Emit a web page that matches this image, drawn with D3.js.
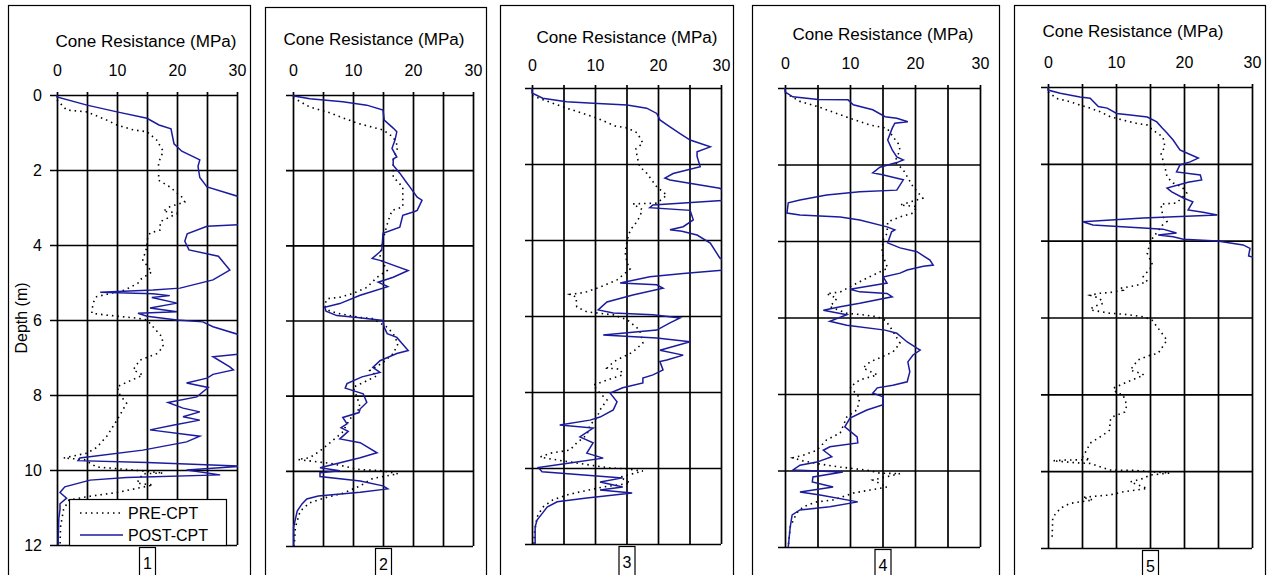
<!DOCTYPE html>
<html>
<head>
<meta charset="utf-8">
<script src="https://cdn.jsdelivr.net/npm/d3@7"></script>
<style>
  body { margin: 0; background: #fff; }
  svg text { font-family: "Liberation Sans", Arial, sans-serif; fill: #000; }
</style>
</head>
<body>
<div id="chart"></div>
<script>
// tick labels and titles
var xTicks = [0, 10, 20, 30];
var gridX = [0, 5, 10, 15, 20, 25, 30];
var depthTicks = [0, 2, 4, 6, 8, 10, 12];
var panelLabels = ["1", "2", "3", "4", "5"];
var xTitle = "Cone Resistance (MPa)";
var yTitle = "Depth (m)";
var seriesNames = ["PRE-CPT", "POST-CPT"];

// [depth (m), cone resistance (MPa)]
var pre1 = [[0.13,0],[0.4,1.6],[0.45,5],[0.67,8.3],[0.8,10],[0.93,12.7],[0.98,15],[1.2,16.6],[1.5,17.7],[1.82,16.9],[2.0,17],[2.27,16.9],[2.45,18.8],[2.72,20.8],[2.85,21.3],[2.98,18.8],[3.1,17.7],[3.15,20.5],[3.2,19.5],[3.38,17.2],[3.6,17.2],[3.68,15.5],[3.87,15],[4.05,15],[4.4,14.3],[4.72,15.8],[4.93,13.8],[5.02,13.5],[5.2,11.3],[5.38,6.6],[5.55,6],[5.82,5.8],[5.87,8.3],[5.95,13.3],[6.0,15],[6.18,16],[6.45,17.5],[6.72,17.7],[6.9,16.6],[7.07,13.8],[7.33,12.7],[7.47,14.3],[7.78,10],[8.0,10.5],[8.22,11.6],[8.67,10],[9.1,8.3],[9.4,6.6],[9.55,5],[9.68,1.1],[9.72,4.5],[9.92,6.6],[10.0,12.7],[10.08,17.7],[10.1,14.3],[10.35,13.3],[10.4,16],[10.6,10],[10.7,5.5],[10.8,2],[11.05,1.1],[11.5,0.6],[12,0.5]];
var post1 = [[0,0],[0.05,0],[0.27,5],[0.45,10],[0.62,15],[0.8,17],[0.9,19],[1.3,19.5],[1.5,20.8],[1.73,23.8],[1.9,23.5],[2.2,23.8],[2.45,25],[2.72,30.5],[3.0,32],[3.45,31],[3.5,25],[3.7,21.7],[3.9,21.3],[4.13,22],[4.3,26.9],[4.67,28.8],[4.93,26],[5.15,20.5],[5.2,16],[5.26,7.2],[5.3,16],[5.35,18.8],[5.4,15.8],[5.55,20],[5.68,15.5],[5.78,20],[5.82,13.5],[5.9,15],[6.0,20],[6.05,24.3],[6.18,26],[6.4,30.5],[6.9,31],[6.98,26],[7.25,28.8],[7.33,29.4],[7.45,26],[7.55,25],[7.68,21.6],[7.8,25.2],[8.05,23.3],[8.2,18.5],[8.35,21],[8.45,23.8],[8.58,21],[8.67,23.8],[8.8,19.5],[8.93,15.5],[9.1,23.8],[9.25,21.6],[9.47,14.3],[9.68,3.8],[9.75,3.5],[9.8,15],[9.9,31],[10.0,21.6],[10.13,27.2],[10.2,11.6],[10.27,5.5],[10.45,1.3],[10.6,0.5],[10.75,1.6],[10.9,0.5],[11.05,0.5],[11.3,0.3],[11.85,0.2],[12,0.2]];

var pre2 = [[0.07,0],[0.32,2.8],[0.45,5.7],[0.75,10.7],[0.93,15],[1.12,16.7],[1.38,17.5],[1.73,16.7],[2.18,16.7],[2.45,18.3],[2.98,18.3],[3.07,16.5],[3.38,15.8],[3.68,15.3],[3.95,14.8],[4.32,14.5],[4.67,15.7],[4.85,14],[5.12,12.3],[5.28,10],[5.38,7.8],[5.42,5.7],[5.6,5.2],[5.75,6.1],[5.82,7.8],[5.92,11.2],[5.95,13.3],[6.18,15.7],[6.35,16.7],[6.62,17.5],[6.88,16.7],[7.12,15],[7.33,12.8],[7.47,14],[7.65,11.7],[7.78,10],[8.05,10.7],[8.32,11.2],[8.62,9.5],[8.98,8.2],[9.25,6.2],[9.47,4.5],[9.65,2.8],[9.7,0.8],[9.8,6.2],[9.97,11.2],[9.99,14.5],[10.08,17.5],[10.2,13.3],[10.4,11.2],[10.6,8.3],[10.7,5.7],[10.85,2.8],[11.07,1.2],[11.5,0.4],[12,0.2]];
var post2 = [[0,0],[0.02,0],[0.1,2.8],[0.18,8.3],[0.27,12.3],[0.4,15],[0.67,15.2],[0.88,16.7],[0.98,17.3],[1.2,17],[1.42,16.5],[1.65,17.3],[1.7,16.7],[1.87,16.7],[2.08,17.8],[2.3,18.8],[2.45,19.5],[2.72,20.7],[2.8,21.5],[3.07,20.7],[3.1,20.3],[3.2,18.3],[3.52,17.8],[3.68,15],[4.13,14.8],[4.35,13.2],[4.4,14.5],[4.67,19.2],[4.85,16.7],[4.98,14.2],[5.1,15.8],[5.33,11.2],[5.55,7.8],[5.65,5.3],[5.75,5.5],[5.87,7.3],[5.92,10.7],[6.0,15],[6.18,15.2],[6.35,15.7],[6.45,17.3],[6.8,19.2],[6.88,17.3],[7.07,14.5],[7.25,13.3],[7.38,14.5],[7.5,11.5],[7.68,9],[7.8,8.7],[7.95,11.7],[8.18,12.3],[8.35,11.2],[8.45,11],[8.58,8.3],[8.75,9],[8.85,8],[8.95,9.2],[9.15,7.8],[9.25,11.2],[9.52,14],[9.65,11.2],[9.92,4.5],[10.0,7.8],[10.05,4.5],[10.15,4.5],[10.27,11.2],[10.4,15],[10.48,15.8],[10.57,11.2],[10.67,4.2],[10.75,2.3],[10.88,1.5],[11.07,0.7],[11.5,0.1],[12,0.1]];

var pre3 = [[0.2,0],[0.4,3.3],[0.53,5.5],[0.79,10.3],[1.0,13.2],[1.05,15.1],[1.18,16.7],[1.45,17.6],[1.6,16.5],[1.82,16.7],[2.07,17.1],[2.24,18.2],[2.6,19.8],[2.82,21.4],[3.03,19.8],[3.05,16],[3.2,17.5],[3.39,17.1],[3.55,16.5],[3.74,15.6],[4.0,15.1],[4.34,14.8],[4.61,15.1],[4.76,15.6],[5.05,13.5],[5.24,10.8],[5.36,8.7],[5.4,7.6],[5.43,6],[5.5,7],[5.76,7.1],[5.89,8.7],[5.97,12.9],[6.1,15.1],[6.37,17.1],[6.71,17.6],[6.95,16],[7.08,14.4],[7.2,13],[7.37,11.9],[7.4,14],[7.55,14.4],[7.66,12.4],[7.82,9.7],[8.03,10.8],[8.21,11.9],[8.47,10.8],[8.68,10.3],[8.87,9.2],[9.13,8.7],[9.34,7.1],[9.53,6],[9.61,2.9],[9.71,1.3],[9.76,2.9],[9.87,7.1],[10.0,12.4],[10.02,14.8],[10.08,17.6],[10.24,14],[10.4,15.6],[10.5,11.3],[10.63,7.6],[10.71,5.5],[10.84,3.3],[11.03,1.7],[11.29,0.8],[11.7,0.4],[12,0.3]];
var post3 = [[0,0],[0.13,0],[0.27,1.7],[0.36,5.5],[0.4,9.7],[0.45,15.1],[0.53,18.2],[0.67,19.8],[0.84,20.3],[1.02,21.9],[1.2,23.5],[1.37,25.1],[1.55,28.3],[1.68,26.2],[1.8,26.2],[2.07,26.7],[2.25,22.4],[2.37,21.1],[2.42,21.9],[2.64,29.8],[2.75,31],[2.95,31],[3.08,19.2],[3.15,18.7],[3.22,25.1],[3.47,25.6],[3.65,24],[3.73,21.9],[3.77,23.8],[3.87,26.2],[4.08,28.3],[4.47,29.8],[4.6,31],[4.79,30.5],[4.88,24],[4.97,18.7],[5.13,14],[5.18,19.8],[5.27,20.8],[5.45,16],[5.63,11.9],[5.84,10.5],[5.92,12.9],[5.97,19.2],[6.05,23.5],[6.18,21.9],[6.37,19.8],[6.5,11.3],[6.58,19.8],[6.68,25.1],[6.9,20.3],[7.03,24],[7.16,21.4],[7.2,20.3],[7.42,20.8],[7.55,19.2],[7.63,17.6],[7.76,17.6],[7.89,14.4],[8.03,12.4],[8.26,13.5],[8.47,12.9],[8.66,10.8],[8.74,9.2],[8.87,4.4],[8.95,9.7],[9.18,7.6],[9.34,9.7],[9.61,8.7],[9.74,11.3],[9.87,6],[9.99,1],[10.1,1.6],[10.26,14.4],[10.37,10.8],[10.5,14.4],[10.58,10.8],[10.66,15.9],[10.79,8.7],[10.89,4],[11.03,2.4],[11.18,1.7],[11.37,0.8],[11.55,0.5],[12,0.5]];

var pre4 = [[0.13,0],[0.35,2.3],[0.48,4.9],[0.79,10],[0.97,13.1],[1.05,15.7],[1.27,16.6],[1.45,17.4],[1.62,17.7],[1.93,16.9],[2.14,18.2],[2.58,19.7],[2.88,21.2],[3.06,17.7],[3.1,20.3],[3.27,19.7],[3.37,17.7],[3.5,15.8],[3.8,15.7],[3.97,15.1],[4.31,14.9],[4.71,15.8],[4.84,14.2],[5.02,12],[5.33,8.5],[5.38,6.4],[5.5,8],[5.72,6.9],[5.89,9.5],[5.93,12],[5.98,14.2],[6.07,15.4],[6.25,16.2],[6.67,17.7],[6.9,16.6],[7.03,14.9],[7.16,13.1],[7.32,12],[7.5,14.2],[7.63,11.5],[7.82,10],[8.1,11.5],[8.41,11.1],[8.6,9.5],[9.02,8.5],[9.2,6.4],[9.47,4.9],[9.6,2.8],[9.67,1.2],[9.75,2.8],[9.86,6.4],[9.91,8.5],[9.99,12.6],[10.07,14.6],[10.08,17.7],[10.25,13.5],[10.43,15.7],[10.51,13.1],[10.59,10.5],[10.77,7.4],[10.82,4.9],[10.95,2.8],[11.11,1.8],[11.48,0.8],[12,0.5]];
var post4 = [[0,0],[0.1,0],[0.23,1.2],[0.3,5.1],[0.31,9.7],[0.44,10.5],[0.57,13.5],[0.75,15.4],[0.79,17.2],[0.88,18.9],[0.92,16.9],[1.05,16.5],[1.36,15.8],[1.62,16.5],[1.8,17.2],[1.88,18.2],[1.95,17.2],[2.07,14.6],[2.22,13.5],[2.27,15],[2.4,18.2],[2.67,17.2],[2.71,11.5],[2.8,6.4],[2.93,2.3],[3.0,0.5],[3.27,0.3],[3.32,2.3],[3.37,8.5],[3.45,11.5],[3.63,15.7],[3.71,16.9],[3.76,16.4],[4.05,15.8],[4.18,17.7],[4.28,20.3],[4.5,22.3],[4.63,22.8],[4.66,21.3],[4.76,18.8],[4.84,17.7],[4.94,15.1],[5.1,15.7],[5.13,14.6],[5.26,10],[5.33,11.5],[5.37,15.7],[5.46,16.5],[5.63,11.5],[5.72,8.5],[5.81,5.9],[5.93,9.5],[6.1,6.9],[6.2,9.5],[6.33,15.4],[6.41,17.2],[6.64,18.8],[6.8,20.3],[6.85,20.8],[6.98,19.7],[7.16,18.9],[7.42,19.2],[7.68,18.8],[7.77,16.6],[7.84,14.2],[7.98,13.5],[8.07,15.1],[8.28,15.1],[8.42,12.6],[8.63,10],[8.86,9.2],[9.12,11.1],[9.28,11.2],[9.38,6.9],[9.47,5.9],[9.64,7.2],[9.78,4.9],[9.86,2.3],[9.99,1.2],[10.04,8.9],[10.17,4.3],[10.3,4.2],[10.43,7.4],[10.56,2.3],[10.64,5.4],[10.82,11.2],[10.95,6.9],[11.03,2.3],[11.16,1.1],[11.48,0.8],[12,0.5]];

var pre5 = [[0.13,0],[0.3,1.3],[0.38,3.2],[0.47,4.7],[0.55,6.2],[0.64,7.6],[0.77,9.1],[0.86,11],[0.95,13.1],[0.99,14.6],[1.12,15.4],[1.3,16.9],[1.56,17.2],[1.72,16.6],[2.08,17.2],[2.34,17.5],[2.5,18.4],[2.6,19.7],[2.76,20.4],[3.02,18.9],[3.05,16.6],[3.38,16.9],[3.5,17.5],[3.6,16.8],[3.93,15.4],[4.07,15],[4.33,14.6],[4.64,15.4],[4.94,14],[5.06,14.6],[5.16,13.1],[5.24,10.6],[5.29,11],[5.34,9.6],[5.37,7.6],[5.42,6.2],[5.5,7.6],[5.63,8.1],[5.73,6.6],[5.8,6.2],[5.89,9.1],[5.92,11.5],[5.98,14],[6.07,15.3],[6.28,16.2],[6.59,17.5],[6.93,16.2],[7.0,14.7],[7.11,13.2],[7.37,12.1],[7.46,13.8],[7.5,14.1],[7.68,11.6],[7.84,9.6],[7.97,10.1],[8.0,11],[8.28,11.6],[8.46,11.3],[8.59,9.4],[8.7,9.1],[8.93,9.1],[9.06,8.1],[9.27,6.2],[9.45,5.7],[9.63,5.1],[9.7,6.2],[9.71,2.6],[9.73,0.7],[9.78,4],[9.8,6.2],[9.97,9.1],[9.98,12.8],[10.05,17.9],[10.1,15],[10.19,14],[10.28,12.1],[10.45,14.6],[10.54,11],[10.62,9.1],[10.68,5.1],[10.75,6.6],[10.84,3.2],[10.97,1.8],[11.2,0.7],[11.75,0.6]];
var post5 = [[0,0],[0.08,0],[0.16,1.8],[0.26,4.7],[0.29,6.2],[0.51,7.4],[0.55,8.7],[0.69,10.1],[0.73,12.1],[0.78,14.6],[0.91,16],[1.07,16.8],[1.2,17.5],[1.38,18.4],[1.64,19.4],[1.68,19.9],[1.85,22.1],[1.95,20.9],[2.03,19.4],[2.21,18.9],[2.29,22.4],[2.42,22.6],[2.48,20.6],[2.63,17.5],[2.73,18.2],[2.89,19.9],[2.99,21.3],[3.2,20.6],[3.26,22.8],[3.33,24.9],[3.41,14],[3.51,5.1],[3.59,6.6],[3.67,14],[3.7,16.9],[3.8,18.9],[3.85,16.2],[3.9,18.4],[3.96,19.9],[4.01,24.9],[4.11,28.7],[4.2,29.7],[4.4,29.5],[4.45,30.5],[4.5,32]];

var preSeries = [pre1, pre2, pre3, pre4, pre5];
var postSeries = [post1, post2, post3, post4, post5];

// where each panel sits on the page
var layout = [
  {left: 8,    right: 250,  top: 5, px: [57, 237],   py: [95, 545], titleX: 146,  titleY: 47, tickY: 76},
  {left: 265,  right: 486,  top: 7, px: [293, 473],  py: [95, 546], titleX: 374,  titleY: 45, tickY: 76},
  {left: 500,  right: 733,  top: 5, px: [532, 721],  py: [88, 544], titleX: 627,  titleY: 43, tickY: 71},
  {left: 752,  right: 999,  top: 5, px: [785, 980],  py: [88, 547], titleX: 883,  titleY: 40, tickY: 69},
  {left: 1014, right: 1265, top: 5, px: [1048, 1252], py: [87, 548], titleX: 1133, titleY: 37, tickY: 68}
];

var blue = "#1b1b9e";

var svg = d3.select("#chart").append("svg")
  .attr("width", 1267)
  .attr("height", 575);

layout.forEach(function(L, i) {
  var g = svg.append("g");

  g.append("rect")
    .attr("x", L.left + 0.5).attr("y", L.top + 0.5)
    .attr("width", L.right - L.left).attr("height", 620)
    .attr("fill", "#fff").attr("stroke", "#000").attr("stroke-width", 1.2);

  var x = d3.scaleLinear().domain([0, 30]).range(L.px);
  var y = d3.scaleLinear().domain([0, 12]).range(L.py);
  var w = L.px[1] - L.px[0];
  var h = L.py[1] - L.py[0];

  // horizontal grid + depth ticks
  var yAxis = g.append("g")
    .attr("transform", "translate(" + (L.px[0] - 7) + ",0)")
    .call(d3.axisLeft(y).tickValues(depthTicks)
      .tickSizeInner(-(w + 7)).tickSizeOuter(0).tickPadding(8)
      .tickFormat(i === 0 ? d3.format("d") : function() { return ""; }));
  yAxis.select(".domain").remove();
  yAxis.selectAll("line").attr("stroke", "#000").attr("stroke-width", 1.7);
  yAxis.selectAll("text").attr("font-size", 16).attr("font-family", null);

  // vertical grid + top ticks
  var xAxis = g.append("g")
    .attr("transform", "translate(0," + (L.py[0] - 3) + ")")
    .call(d3.axisTop(x).tickValues(gridX)
      .tickSizeInner(-(h + 3)).tickSizeOuter(0)
      .tickPadding(L.py[0] - 3 - L.tickY)
      .tickFormat(function(d) { return xTicks.indexOf(d) >= 0 ? d : ""; }));
  xAxis.select(".domain").remove();
  xAxis.selectAll("line").attr("stroke", "#000").attr("stroke-width", 1.7);
  xAxis.selectAll("text").attr("font-size", 16).attr("font-family", null);

  g.append("text")
    .attr("x", L.titleX).attr("y", L.titleY)
    .attr("text-anchor", "middle")
    .attr("font-size", 16)
    .attr("textLength", 181).attr("lengthAdjust", "spacingAndGlyphs")
    .text(xTitle);

  var clipId = "clip" + i;
  svg.append("clipPath").attr("id", clipId)
    .append("rect")
    .attr("x", L.px[0] - 2).attr("y", L.py[0] - 2)
    .attr("width", w + 3).attr("height", h + 4);

  var line = d3.line()
    .x(function(d) { return x(d[1]); })
    .y(function(d) { return y(d[0]); });

  var curves = g.append("g").attr("clip-path", "url(#" + clipId + ")");

  curves.append("path")
    .datum(preSeries[i])
    .attr("d", line)
    .attr("fill", "none")
    .attr("stroke", "#000")
    .attr("stroke-width", 1.6)
    .attr("stroke-dasharray", "1.5,4");

  curves.append("path")
    .datum(postSeries[i])
    .attr("d", line)
    .attr("fill", "none")
    .attr("stroke", blue)
    .attr("stroke-width", 1.5);

  // panel number box
  var cx = x(15);
  g.append("rect")
    .attr("x", cx - 8 + 0.5).attr("y", L.py[1] + 2.5)
    .attr("width", 16).attr("height", 40)
    .attr("fill", "#fff").attr("stroke", "#000").attr("stroke-width", 1.2);
  g.append("text")
    .attr("x", cx + 0.5).attr("y", L.py[1] + 24)
    .attr("text-anchor", "middle")
    .attr("font-size", 16)
    .text(panelLabels[i]);

  if (i === 0) {
    g.append("text")
      .attr("transform", "translate(27,318) rotate(-90)")
      .attr("text-anchor", "middle")
      .attr("font-size", 16)
      .text(yTitle);

    // legend
    var lg = g.append("g");
    lg.append("rect")
      .attr("x", 69.5).attr("y", 499.5)
      .attr("width", 157).attr("height", L.py[1] - 499)
      .attr("fill", "#fff").attr("stroke", "#000").attr("stroke-width", 1.2);
    lg.append("line")
      .attr("x1", 80).attr("x2", 123).attr("y1", 513).attr("y2", 513)
      .attr("stroke", "#000").attr("stroke-width", 1.6).attr("stroke-dasharray", "1.5,4");
    lg.append("line")
      .attr("x1", 80).attr("x2", 123).attr("y1", 535).attr("y2", 535)
      .attr("stroke", blue).attr("stroke-width", 1.5);
    lg.selectAll("text.leg")
      .data(seriesNames)
      .enter()
      .append("text")
        .attr("class", "leg")
        .attr("x", 128)
        .attr("y", function(d, k) { return 519 + k * 22; })
        .attr("font-size", 16)
        .text(function(d) { return d; });
  }
});
</script>
</body>
</html>
